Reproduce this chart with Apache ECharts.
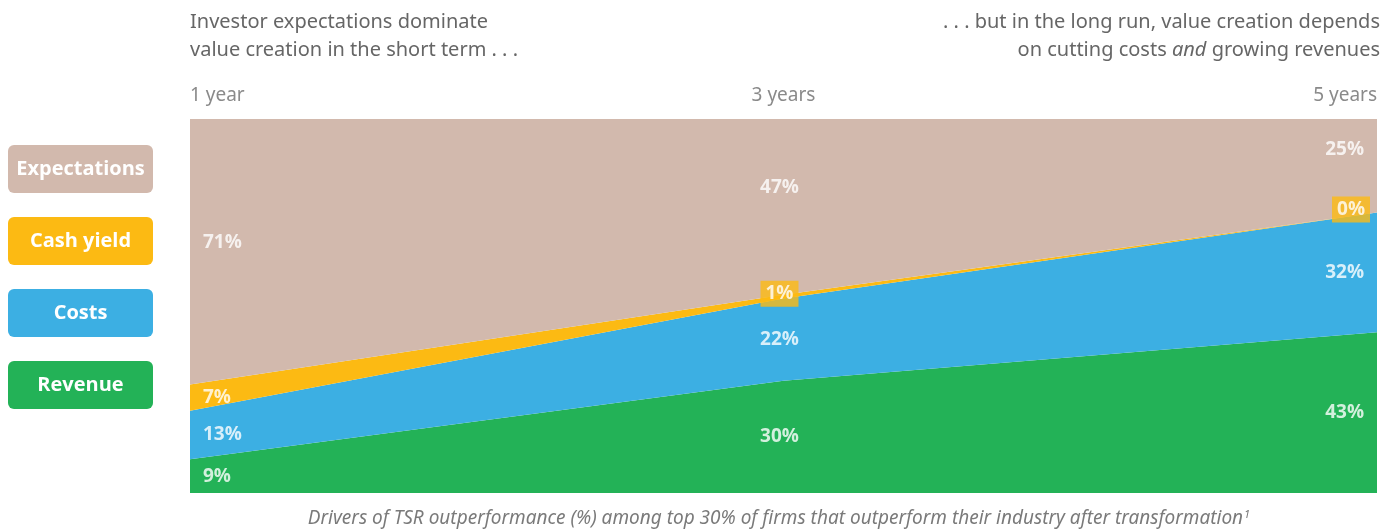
<!DOCTYPE html>
<html>
<head>
<meta charset="utf-8">
<script src="https://cdn.jsdelivr.net/npm/echarts@6/dist/echarts.min.js"></script>
<style>html,body{margin:0;padding:0;background:#fff}#c{width:1394px;height:530px}</style>
</head>
<body>
<div id="c"></div>
<script>
const years = ['1 year', '3 years', '5 years'];
const seriesNames = ['Revenue', 'Costs', 'Cash yield', 'Expectations'];
const revenue = [9, 30, 43];
const costs = [13, 22, 32];
const cashYield = [7, 1, 0];
const expectations = [71, 47, 25];

const colors = {
  'Expectations': '#d2b9ad',
  'Cash yield': '#fcba13',
  'Costs': '#3cafe3',
  'Revenue': '#23b257'
};
const values = { 'Revenue': revenue, 'Costs': costs, 'Cash yield': cashYield, 'Expectations': expectations };

const chart = echarts.init(document.getElementById('c'));
const labelFont = '"Open Sans", Lato, sans-serif';
const textFont = '"Noto Sans", "Open Sans", sans-serif';

const series = [];
seriesNames.forEach(name => {
  series.push({
    name: name, type: 'line', stack: 'total', data: values[name],
    symbol: 'none', smooth: false,
    lineStyle: { width: 0 },
    areaStyle: { color: colors[name], opacity: 1 },
    itemStyle: { color: colors[name] },
    z: 2
  });
});

// label points at middle of each band
const expShift = [-9, -19, -16];
const labelData = [];
years.forEach((y, i) => {
  let base = 0;
  seriesNames.forEach(name => {
    const v = values[name][i];
    const mid = base + v / 2;
    base += v;
    const align = i === 0 ? 'left' : (i === years.length - 1 ? 'right' : 'center');
    const dx = i === 0 ? 13 : (i === years.length - 1 ? -13 : -4);
    const small = name === 'Cash yield' && v < 3;
    labelData.push({
      value: [i, mid],
      label: {
        show: true,
        formatter: v + '%',
        align: align,
        verticalAlign: 'middle',
        offset: [small && i === years.length - 1 ? -7 : dx, name === 'Expectations' ? expShift[i] : (small ? -3 : 0)],
        backgroundColor: small ? colors['Cash yield'] : 'transparent',
        padding: small ? [4, 5, 3, 5] : 0
      }
    });
  });
});
series.push({
  type: 'scatter', data: labelData, symbolSize: 0, z: 5, silent: true,
  label: { show: true, position: 'inside', color: '#fff', fontSize: 19, fontWeight: 'bold', fontFamily: labelFont }
});

const legendGraphics = [];
const legendOrder = ['Expectations', 'Cash yield', 'Costs', 'Revenue'];
legendOrder.forEach((name, k) => {
  legendGraphics.push({
    type: 'group', left: 8, top: 145 + k * 72,
    children: [
      { type: 'rect', shape: { x: 0, y: 0, width: 145, height: 48, r: 6 }, style: { fill: colors[name] } },
      { type: 'text', x: 72.5, y: 24, style: { text: name, fill: '#fff', font: 'bold 20px ' + labelFont, textAlign: 'center', textVerticalAlign: 'middle' } }
    ]
  });
});

const option = {
  animation: false,
  grid: { left: 190, right: 17, top: 119, bottom: 37 },
  xAxis: {
    type: 'category', data: years, position: 'top', boundaryGap: false,
    axisLine: { show: false }, axisTick: { show: false },
    axisLabel: { color: '#8a8a8a', fontSize: 19, fontFamily: textFont, margin: 14, alignMinLabel: 'left', alignMaxLabel: 'right' }
  },
  yAxis: { type: 'value', min: 0, max: 100, show: false, splitLine: { show: false } },
  series: series,
  graphic: [
    ...legendGraphics,
    { type: 'text', left: 190, top: 8, style: { text: 'Investor expectations dominate\nvalue creation in the short term . . .', fill: '#666', font: '20px ' + textFont, lineHeight: 28 } },
    { type: 'text', right: 14, top: 8, style: {
        text: '. . . but in the long run, value creation depends\n{n|on cutting costs }{i|and}{n| growing revenues}',
        fill: '#666', font: '20px ' + textFont, lineHeight: 28, textAlign: 'right',
        rich: { n: { fontSize: 20, fontFamily: textFont, fill: '#666', lineHeight: 28 }, i: { fontSize: 20, fontFamily: textFont, fontStyle: 'italic', fill: '#666', lineHeight: 28 } }
      } },
    { type: 'text', x: 779, y: 509, style: {
        text: '{t|Drivers of TSR outperformance (%) among top 30% of firms that outperform their industry after transformation}{s|1}',
        textAlign: 'center',
        rich: { t: { fontSize: 19, fontStyle: 'italic', fontFamily: textFont, fill: '#7a7a7a' }, s: { fontSize: 11, fontStyle: 'italic', fontFamily: textFont, fill: '#7a7a7a', verticalAlign: 'top', padding: [0, 0, 8, 1] } }
      } }
  ]
};
chart.setOption(option);
</script>
</body>
</html>
